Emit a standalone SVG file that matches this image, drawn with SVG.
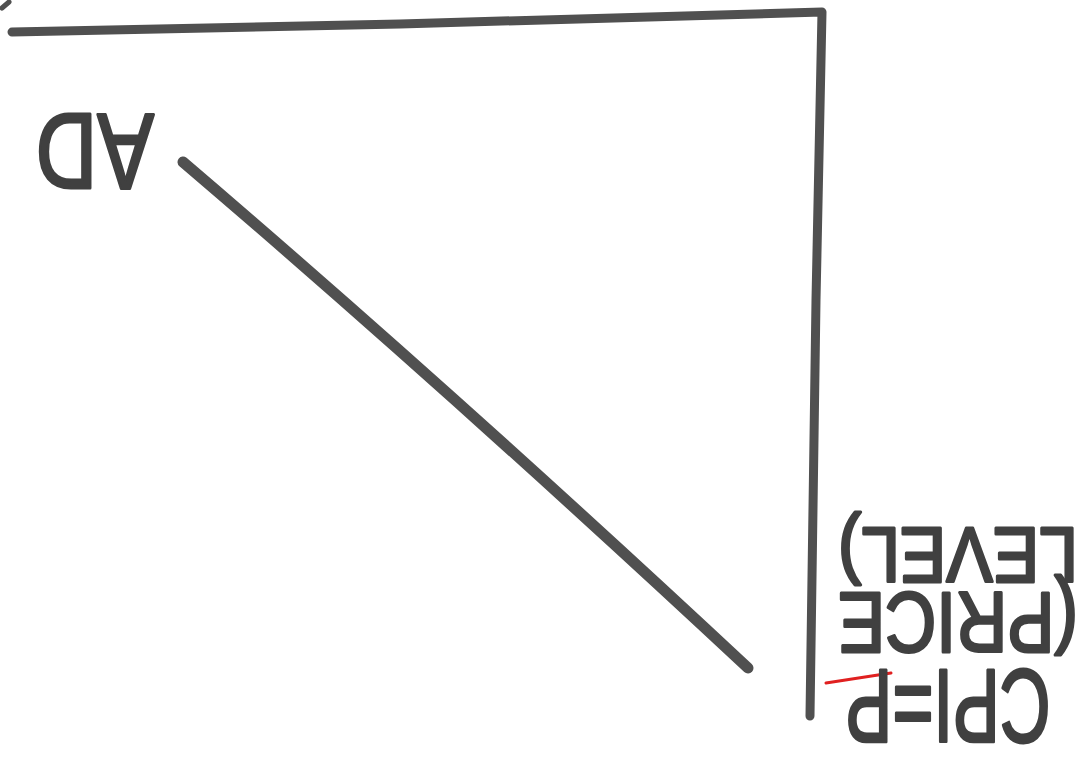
<svg xmlns="http://www.w3.org/2000/svg" width="1090" height="766" viewBox="0 0 1090 766">
<style>
.ln{fill:none;stroke:#505050;stroke-linecap:round;stroke-linejoin:round}
.tx{font-family:"Liberation Sans",Arial,sans-serif;fill:#404040;stroke:#404040;stroke-width:3;stroke-linejoin:round}
</style>
<rect width="1090" height="766" fill="#ffffff"/>
<g id="connectors">
<path class="ln" stroke-width="9" d="M12,32 L400,24 L822,12 L816,300 L810,716"/>
<path class="ln" stroke-width="5" d="M2,8 L9,2"/>
<path class="ln" stroke-width="11" d="M183,162 Q450,390 748,668"/>
<line x1="826" y1="683" x2="891" y2="673" stroke="#e02020" stroke-width="3" stroke-linecap="round"/>
</g>
<g id="label-ad">
<text class="tx" transform="translate(95,152) rotate(180)" y="38" text-anchor="middle" font-size="108" textLength="118" lengthAdjust="spacingAndGlyphs">AD</text>
</g>
<g id="label-cpi">
<text class="tx" transform="translate(948,708) rotate(180)" y="38" text-anchor="middle" font-size="104" textLength="205" lengthAdjust="spacingAndGlyphs">CPI=P</text>
<text class="tx" transform="translate(958,625) rotate(180)" y="32" text-anchor="middle" font-size="86" textLength="240" lengthAdjust="spacingAndGlyphs">(PRICE</text>
<text class="tx" transform="translate(958,556) rotate(180)" y="28" text-anchor="middle" font-size="78" textLength="240" lengthAdjust="spacingAndGlyphs">LEVEL)</text>
</g>
</svg>
